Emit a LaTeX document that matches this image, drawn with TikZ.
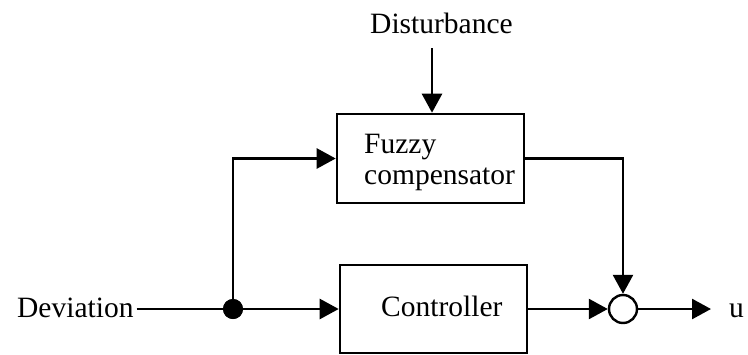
\documentclass[tikz,border=0pt]{standalone}
\usepackage{fontspec}
\setmainfont{Liberation Serif}
\usetikzlibrary{arrows.meta,calc}

\begin{document}
\begin{tikzpicture}[x=1pt,y=-1pt,
  wire/.style={line width=2.6pt},
  flow/.style={wire,-{Triangle[length=19pt,width=20pt]}},
  blockbox/.style={draw,line width=2.6pt,inner sep=0pt,minimum width=187pt},
  lbl/.style={inner sep=0pt,font=\fontsize{29.5}{31}\selectfont},
  sumnode/.style={draw,circle,line width=2.4pt,fill=white,minimum size=28pt,inner sep=0pt},
  dotnode/.style={circle,fill=black,minimum size=20pt,inner sep=0pt}
]
\useasboundingbox[fill=white] (0,0) rectangle (748,354);

% blocks
\node[blockbox,minimum height=89pt] (fuzzy) at (430.5,158.5) {};
\node[lbl,anchor=base west,align=left] (fuzzytext) at (364,184) {Fuzzy\\compensator};
\node[blockbox,minimum height=88pt] (ctrl) at (433.5,309) {};
\node[lbl,anchor=base west] (ctrltext) at (381,316) {Controller};

% signals and labels
\node[lbl,anchor=base west] (dist) at (370,33) {Disturbance};
\coordinate (dtail) at (432,48);
\node[lbl,anchor=base west] (dev) at (17,317) {Deviation};
\node[dotnode] (junc) at (233,309) {};
\node[sumnode] (sum) at (623,309) {};
\coordinate (uend) at (711,309);
\node[lbl,anchor=base west] (u) at (729,317) {u};

% connectors
\draw[flow] (dtail) -- (dtail |- fuzzy.north);
\draw[wire] (dev.east |- junc) ++(3,0) -- (junc);
\draw[flow] (junc) -- (ctrl.west);
\draw[flow] (junc.center) |- (fuzzy.west);
\draw[flow] (fuzzy.east) -| (sum.north);
\draw[flow] (ctrl.east) -- (sum.west);
\draw[flow] (sum.east) -- (uend);
\node[dotnode] at (junc) {};
\end{tikzpicture}
\end{document}
